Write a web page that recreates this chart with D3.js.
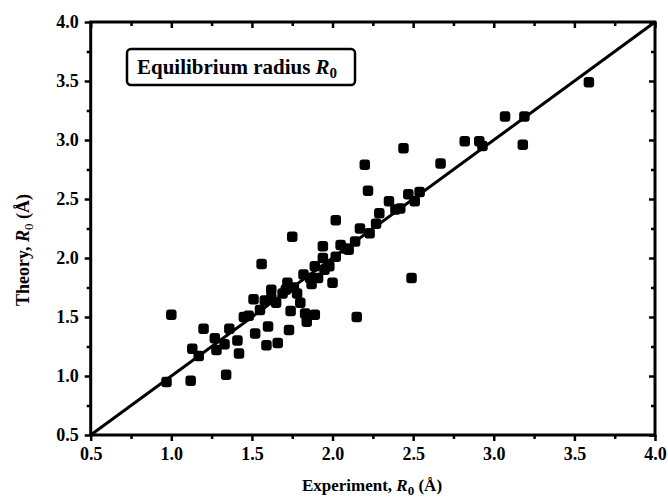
<!DOCTYPE html>
<html lang="en">
<head>
    <meta charset="UTF-8">
    <title>Equilibrium radius</title>
    <style>
        body { margin: 0; background: #fff; }
        text { font-family: "Liberation Serif", "Times New Roman", serif; font-weight: bold; }
    </style>
</head>
<body>
<script src="https://cdn.jsdelivr.net/npm/d3@7"></script>
<script>
    // experiment vs theory, R0 in angstrom
    var experiment = [0.97, 1.12, 1.00, 1.13, 1.17, 1.20, 1.27, 1.28, 1.34, 1.36,
        1.33, 1.41, 1.42, 1.48, 1.52, 1.51, 1.56, 1.59, 1.62, 1.58,
        1.60, 1.66, 1.73, 1.72, 1.69, 1.65, 1.82, 1.80, 1.83, 1.89,
        1.84, 1.91, 2.00, 1.89, 1.98, 1.94, 2.02, 2.15, 1.75, 1.94,
        2.02, 2.20, 2.22, 2.44, 2.67, 2.82, 2.49, 2.05, 2.14, 2.17,
        2.23, 2.29, 2.35, 2.39, 2.47, 2.51, 2.54, 2.42, 2.27, 2.91,
        2.93, 3.07, 3.19, 3.18, 3.59, 1.55, 1.62, 1.76, 1.71, 1.78,
        1.86, 1.95, 2.08, 2.10, 1.45, 1.74, 1.87];
    var theory = [0.95, 0.96, 1.52, 1.23, 1.17, 1.40, 1.32, 1.22, 1.01, 1.40,
        1.27, 1.30, 1.19, 1.51, 1.36, 1.65, 1.95, 1.26, 1.73, 1.64,
        1.42, 1.28, 1.39, 1.79, 1.70, 1.62, 1.86, 1.62, 1.53, 1.52,
        1.46, 1.83, 1.79, 1.93, 1.93, 2.00, 2.01, 1.50, 2.18, 2.10,
        2.32, 2.79, 2.57, 2.93, 2.80, 2.99, 1.83, 2.11, 2.14, 2.25,
        2.21, 2.38, 2.48, 2.41, 2.54, 2.48, 2.56, 2.42, 2.29, 2.99,
        2.95, 3.20, 3.20, 2.96, 3.49, 1.56, 1.66, 1.75, 1.73, 1.70,
        1.83, 1.90, 2.08, 2.07, 1.50, 1.55, 1.78];
    var majorTicks = [0.5, 1.0, 1.5, 2.0, 2.5, 3.0, 3.5, 4.0];
    var minorTicks = [0.75, 1.25, 1.75, 2.25, 2.75, 3.25, 3.75];
    var domain = [0.5, 4.0];

    var plotL = 90.7, plotR = 655, plotT = 22, plotB = 435;

    var svg = d3.select('body').append('svg')
            .attr('width', 668)
            .attr('height', 497);

    var x = d3.scaleLinear().domain(domain).range([plotL, plotR]);
    var y = d3.scaleLinear().domain(domain).range([plotB, plotT]);

    var fmt = d3.format('.1f');

    function styleAxis(g) {
        g.selectAll('path').remove();
        g.selectAll('line').attr('stroke', '#000').attr('stroke-width', 2.5);
        g.selectAll('text').attr('font-size', '18px').attr('fill', '#000');
    }

    function addAxis(axisFn, scale, ticks, len, labels, tx, ty) {
        var ax = axisFn(scale).tickValues(ticks).tickSize(len).tickPadding(6);
        ax.tickFormat(labels ? fmt : '');
        svg.append('g').attr('transform', 'translate(' + tx + ',' + ty + ')')
                .call(ax)
                .call(styleAxis);
    }

    // bottom & left with labels
    addAxis(d3.axisBottom, x, majorTicks, 6, true, 0, plotB);
    addAxis(d3.axisBottom, x, minorTicks, 4, false, 0, plotB);
    addAxis(d3.axisLeft, y, majorTicks, 6, true, plotL, 0);
    addAxis(d3.axisLeft, y, minorTicks, 4, false, plotL, 0);
    // mirrored top & right, ticks pointing in
    addAxis(d3.axisBottom, x, majorTicks, 6, false, 0, plotT);
    addAxis(d3.axisBottom, x, minorTicks, 4, false, 0, plotT);
    addAxis(d3.axisLeft, y, majorTicks, 6, false, plotR, 0);
    addAxis(d3.axisLeft, y, minorTicks, 4, false, plotR, 0);

    svg.append('rect')
            .attr('x', plotL).attr('y', plotT)
            .attr('width', plotR - plotL).attr('height', plotB - plotT)
            .attr('fill', 'none').attr('stroke', '#000').attr('stroke-width', 3);

    // y = x line
    svg.append('line')
            .attr('x1', x(domain[0])).attr('y1', y(domain[0]))
            .attr('x2', x(domain[1])).attr('y2', y(domain[1]))
            .attr('stroke', '#000').attr('stroke-width', 3);

    var pts = experiment.map(function (d, i) { return {x: d, y: theory[i]}; });
    var s = 10.5;
    svg.selectAll('rect.pt')
            .data(pts)
            .enter()
            .append('rect')
            .attr('class', 'pt')
            .attr('x', function (d) { return x(d.x) - s / 2; })
            .attr('y', function (d) { return y(d.y) - s / 2; })
            .attr('width', s).attr('height', s)
            .attr('rx', 3).attr('ry', 3)
            .attr('fill', '#000');

    // legend box
    svg.append('rect')
            .attr('x', 127).attr('y', 49).attr('width', 228).attr('height', 36)
            .attr('rx', 4).attr('fill', '#fff')
            .attr('stroke', '#000').attr('stroke-width', 2.5);
    var lt = svg.append('text').attr('x', 137).attr('y', 74).attr('font-size', '21px');
    lt.append('tspan').text('Equilibrium radius ');
    lt.append('tspan').attr('font-style', 'italic').text('R');
    lt.append('tspan').attr('font-size', '15px').attr('dy', 4).text('0');

    // axis titles
    var xt = svg.append('text').attr('x', 372).attr('y', 491).attr('text-anchor', 'middle').attr('font-size', '17px');
    xt.append('tspan').text('Experiment, ');
    xt.append('tspan').attr('font-style', 'italic').text('R');
    xt.append('tspan').attr('font-size', '13px').attr('dy', 4).text('0');
    xt.append('tspan').attr('dy', -4).text(' (Å)');

    var yt = svg.append('text').attr('transform', 'translate(29,250) rotate(-90)')
            .attr('text-anchor', 'middle').attr('font-size', '18px');
    yt.append('tspan').text('Theory, ');
    yt.append('tspan').attr('font-style', 'italic').text('R');
    yt.append('tspan').attr('font-size', '13px').attr('dy', 4).attr('font-weight', 'normal').text('0');
    yt.append('tspan').attr('dy', -4).text(' (Å)');
</script>
</body>
</html>
